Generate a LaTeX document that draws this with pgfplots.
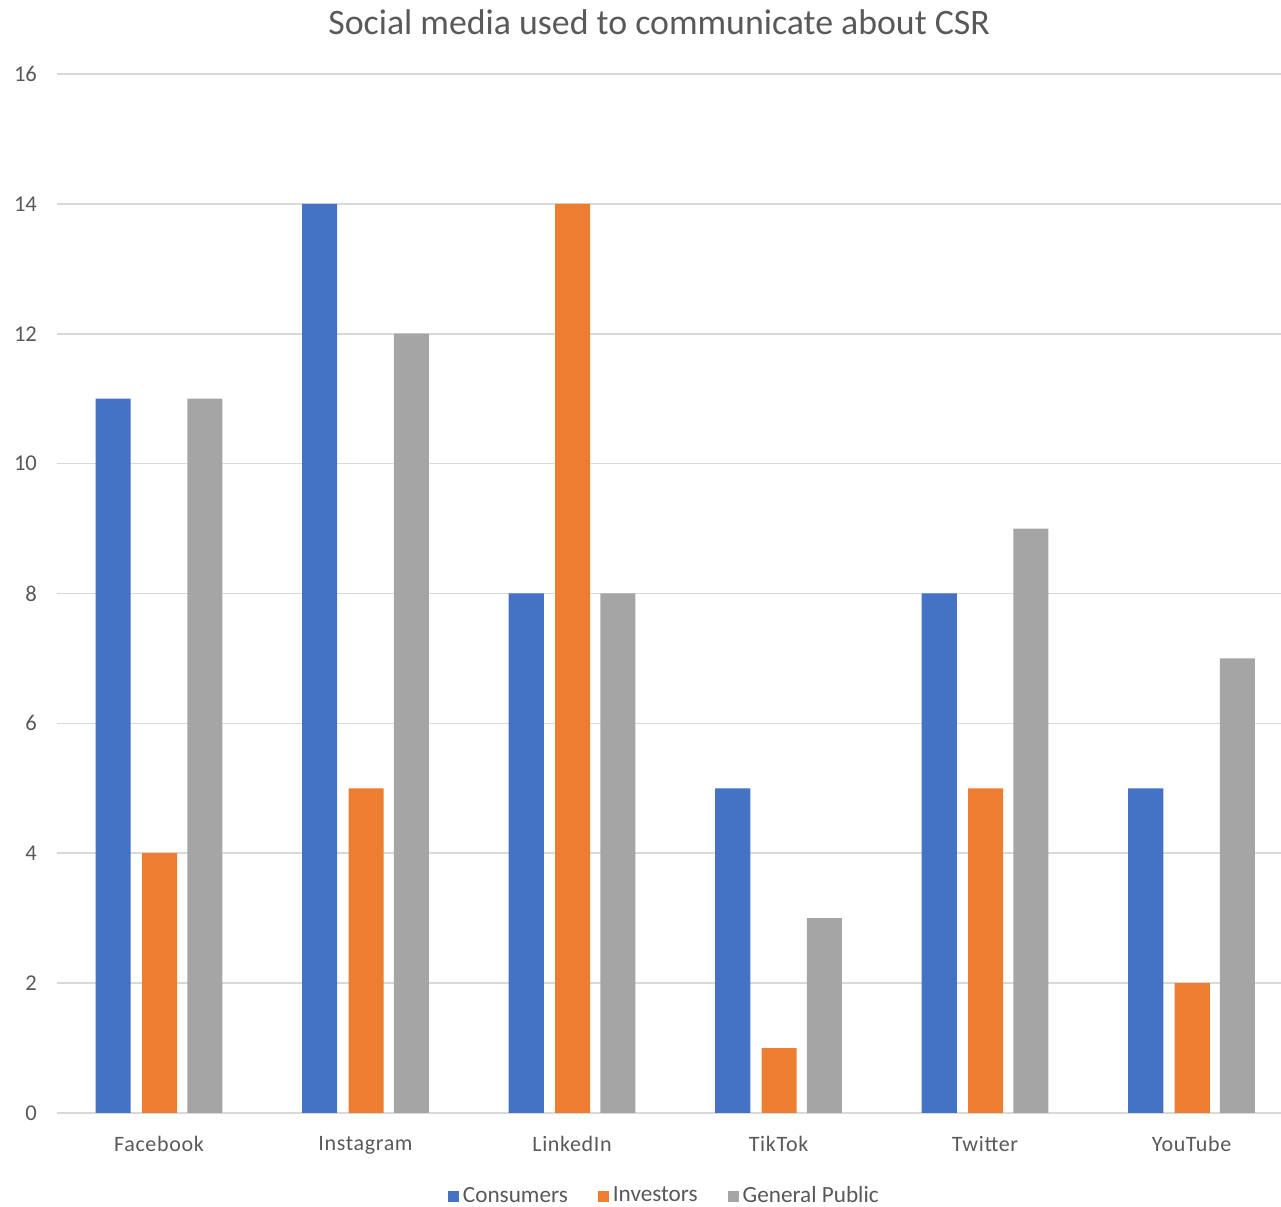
\documentclass[border=0pt]{standalone}
\usepackage{pgfplots}
\pgfplotsset{compat=1.18}
\usepackage{fontspec}
\setmainfont{Carlito}
\definecolor{cblue}{HTML}{4472C4}
\definecolor{corange}{HTML}{ED7D31}
\definecolor{cgray}{HTML}{A5A5A5}
\definecolor{gridc}{HTML}{D9D9D9}
\definecolor{txt}{HTML}{595959}
\pgfplotsset{sqlegend/.style={legend image code/.code={\fill[##1] (0pt,-3pt) rectangle (5.5pt,2.5pt);}}}
\begin{document}
\begin{tikzpicture}
\begin{axis}[
  name=ax,
  at={(0,0)}, anchor=south west,
  scale only axis,
  width=612pt, height=519.5pt,
  ymin=0, ymax=16, ytick={0,2,...,16},
  xmin=-0.494, xmax=5.433,
  xtick={0,...,5},
  xticklabels={Facebook,Instagram,LinkedIn,TikTok,Twitter,YouTube},
  ymajorgrids, grid style={gridc, line width=0.8pt},
  axis line style={draw=none},
  major tick length=0pt,
  /pgf/number format/assume math mode=true,
  yticklabel style={font=\fontsize{11.3}{13}\selectfont, text=txt, anchor=east, xshift=-6.5pt},
  xticklabel style={font=\fontsize{11}{13}\selectfont\addfontfeatures{LetterSpace=3}, text=txt, yshift=-8pt},
  title={Social media used to communicate about CSR},
  title style={at={(0.492,1)}, anchor=center, yshift=20pt, font=\fontsize{17.9}{20}\selectfont, text=txt},
  legend style={at={(0.497,0)}, anchor=center, yshift=-41.5pt, draw=none, legend columns=-1,
    font=\fontsize{11.6}{13}\selectfont, text=txt,
    /tikz/every odd column/.append style={text height=1.6ex, text depth=0.3ex},
    /tikz/every even column/.append style={column sep=13pt}},
  ybar, bar width=0.17,
]
\addplot[fill=cblue, draw=none, bar shift=-0.222, sqlegend] coordinates {(0,11) (1,14) (2,8) (3,5) (4,8) (5,5)};
\addplot[fill=corange, draw=none, bar shift=0.003, sqlegend] coordinates {(0,4) (1,5) (2,14) (3,1) (4,5) (5,2)};
\addplot[fill=cgray, draw=none, bar shift=0.222, sqlegend] coordinates {(0,11) (1,12) (2,8) (3,3) (4,9) (5,7)};
\legend{Consumers, Investors, General Public}
\end{axis}
\pgfresetboundingbox
\path[use as bounding box] ([xshift=-28.5pt,yshift=-47pt]ax.south west) rectangle ([yshift=37pt]ax.north east);
\end{tikzpicture}
\end{document}
